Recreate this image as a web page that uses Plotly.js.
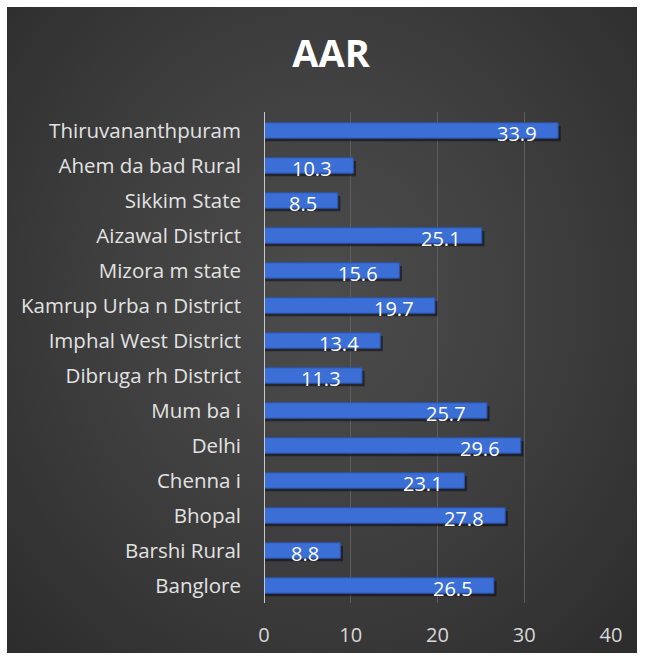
<!DOCTYPE html>
<html><head><meta charset="utf-8">
<script src="https://cdn.plot.ly/plotly-3.0.1.min.js"></script>
<style>
html,body{margin:0;padding:0;background:#fff;width:648px;height:659px;overflow:hidden;}
#panel{position:absolute;left:7px;top:7px;width:630px;height:646px;
background:radial-gradient(ellipse at 50% 45%, #4c4c4c 0%, #404040 45%, #2c2c2c 100%);}
#chart{position:absolute;left:0;top:0;width:648px;height:659px;}
</style></head>
<body>
<div id="panel"></div>
<div id="chart"></div>
<script>
const categories = ["Thiruvananthpuram","Ahem da bad Rural","Sikkim State","Aizawal District","Mizora m state","Kamrup Urba n District","Imphal West District","Dibruga rh District","Mum ba i","Delhi","Chenna i","Bhopal","Barshi Rural","Banglore"];
const values = [33.9,10.3,8.5,25.1,15.6,19.7,13.4,11.3,25.7,29.6,23.1,27.8,8.8,26.5];
const xTicks = [0,10,20,30,40];

const shadow = {type:'bar', orientation:'h', y:categories, x:values.map(v=>v+0.3),
  width:0.44, offset:-0.13, marker:{color:'rgba(10,10,20,0.55)'}, hoverinfo:'skip', showlegend:false};
const bars = {type:'bar', orientation:'h', y:categories, x:values,
  width:0.44, offset:-0.22, marker:{color:'#3b6fd6', line:{color:'#2a55b0', width:1}}, showlegend:false};

const annotations = values.map((v,i)=>({x:v, y:categories[i], xref:'x', yref:'y', text:v.toFixed(1),
  showarrow:false, xanchor:'right', yanchor:'middle', xshift:-19, yshift:-3,
  font:{family:'Open Sans, sans-serif', size:20, color:'#ffffff'}}));

const layout = {
  width:648, height:659,
  paper_bgcolor:'rgba(0,0,0,0)', plot_bgcolor:'rgba(0,0,0,0)',
  margin:{l:264, r:37, t:112, b:56},
  barmode:'overlay',
  title:{text:'<b>AAR</b>', x:0.511, xanchor:'center', y:0.918, yanchor:'middle',
    font:{family:'Open Sans, sans-serif', size:38, color:'#ffffff'}},
  xaxis:{range:[0,40], tickvals:xTicks, ticktext:xTicks.map(String), showgrid:true,
    gridcolor:'#5e5e5e', gridwidth:1, zeroline:false, showline:false, ticks:'',
    tickfont:{family:'Open Sans, sans-serif', size:20, color:'#d8d8d8'}, ticklabelstandoff:18, fixedrange:true},
  yaxis:{type:'category', autorange:'reversed', showgrid:false, zeroline:false, showline:false, ticks:'',
    tickfont:{family:'Open Sans, sans-serif', size:20.5, color:'#e2e2e2'}, ticklabelstandoff:22},
  shapes:[{type:'line', xref:'x', yref:'paper', x0:0, x1:0, y0:0, y1:1, line:{color:'#c8c8c8', width:2}}],
  annotations:annotations
};
Plotly.newPlot('chart',[shadow,bars],layout,{displayModeBar:false,staticPlot:true});
</script>
</body></html>
